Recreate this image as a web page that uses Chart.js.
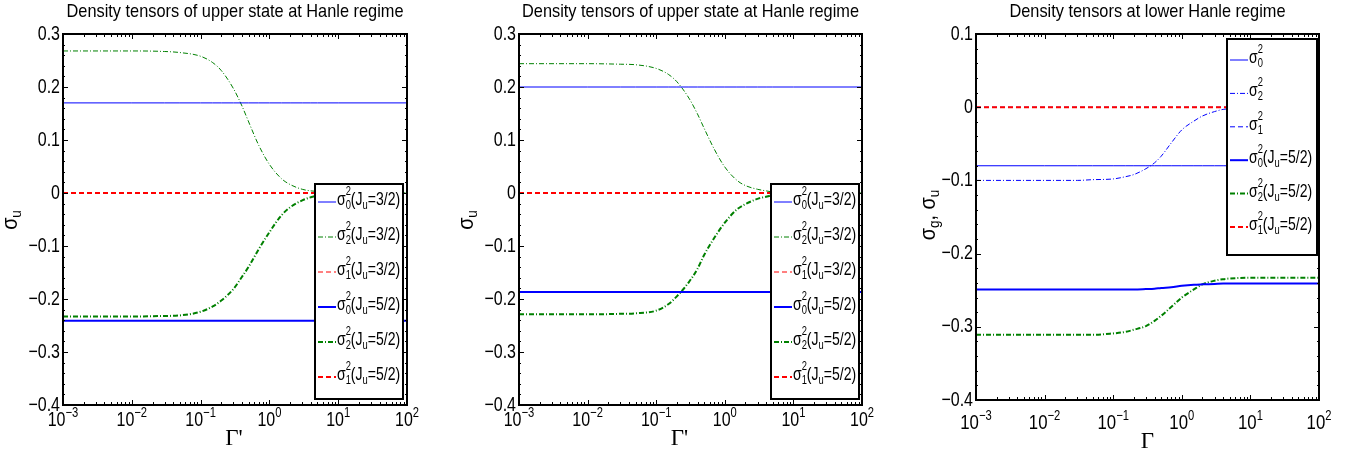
<!DOCTYPE html>
<html>
<head>
<meta charset="utf-8">
<script src="https://cdn.jsdelivr.net/npm/chart.js@4.4.0/dist/chart.umd.min.js"></script>
<style>
  body { margin: 0; background: #fff; width: 1353px; height: 453px; overflow: hidden; position: relative; }
  .panel { position: absolute; top: 0; width: 451px; height: 453px; }
</style>
</head>
<body>
<div class="panel" style="left:0"><canvas id="c1"></canvas></div>
<div class="panel" style="left:451px"><canvas id="c2"></canvas></div>
<div class="panel" style="left:902px"><canvas id="c3"></canvas></div>
<script>
// Gamma values (x axis, log scale) at which the curves were read
const gamma = [0.001, 0.01, 0.03, 0.05, 0.1, 0.15, 0.2, 0.3, 0.4, 0.5, 0.7, 1, 1.5, 2, 3, 4, 5, 10, 100];
const xTickExp = ['-3', '-2', '-1', '0', '1', '2'];

// panel 1 - upper state
const p1Labels = ['σ_0^2(J_u=3/2)', 'σ_2^2(J_u=3/2)', 'σ_1^2(J_u=3/2)', 'σ_0^2(J_u=5/2)', 'σ_2^2(J_u=5/2)', 'σ_1^2(J_u=5/2)'];
const p1s0a = [0.17, 0.17, 0.17, 0.17, 0.17, 0.17, 0.17, 0.17, 0.17, 0.17, 0.17, 0.17, 0.17, 0.17, 0.17, 0.17, 0.17, 0.17, 0.17];
const p1s2a = [0.268, 0.268, 0.267, 0.265, 0.258, 0.246, 0.231, 0.197, 0.164, 0.134, 0.090, 0.054, 0.027, 0.016, 0.007, 0.004, 0.003, 0.001, 0];
const p1s1a = [0, 0, 0, 0, 0, 0, 0, 0, 0, 0, 0, 0, 0, 0, 0, 0, 0, 0, 0];
const p1s0b = [-0.241, -0.241, -0.241, -0.241, -0.241, -0.241, -0.241, -0.241, -0.241, -0.241, -0.241, -0.241, -0.241, -0.241, -0.241, -0.241, -0.241, -0.241, -0.241];
const p1s2b = [-0.233, -0.233, -0.232, -0.231, -0.224, -0.214, -0.203, -0.181, -0.158, -0.139, -0.106, -0.074, -0.042, -0.027, -0.014, -0.008, -0.005, -0.001, 0];
const p1s1b = [0, 0, 0, 0, 0, 0, 0, 0, 0, 0, 0, 0, 0, 0, 0, 0, 0, 0, 0];

// panel 2 - upper state
const p2Labels = p1Labels;
const p2s0a = [0.2, 0.2, 0.2, 0.2, 0.2, 0.2, 0.2, 0.2, 0.2, 0.2, 0.2, 0.2, 0.2, 0.2, 0.2, 0.2, 0.2, 0.2, 0.2];
const p2s2a = [0.244, 0.244, 0.243, 0.242, 0.235, 0.224, 0.210, 0.179, 0.149, 0.122, 0.083, 0.049, 0.024, 0.014, 0.007, 0.004, 0.002, 0.001, 0];
const p2s1a = [0, 0, 0, 0, 0, 0, 0, 0, 0, 0, 0, 0, 0, 0, 0, 0, 0, 0, 0];
const p2s0b = [-0.187, -0.187, -0.187, -0.187, -0.187, -0.187, -0.187, -0.187, -0.187, -0.187, -0.187, -0.187, -0.187, -0.187, -0.187, -0.187, -0.187, -0.187, -0.187];
const p2s2b = [-0.229, -0.229, -0.228, -0.227, -0.222, -0.210, -0.195, -0.168, -0.143, -0.117, -0.085, -0.056, -0.031, -0.021, -0.011, -0.007, -0.004, -0.001, 0];
const p2s1b = [0, 0, 0, 0, 0, 0, 0, 0, 0, 0, 0, 0, 0, 0, 0, 0, 0, 0, 0];

// panel 3 - lower level
const p3Labels = ['σ_0^2', 'σ_2^2', 'σ_1^2', 'σ_0^2(J_u=5/2)', 'σ_2^2(J_u=5/2)', 'σ_1^2(J_u=5/2)'];
const p3s0a = [-0.08, -0.08, -0.08, -0.08, -0.08, -0.08, -0.08, -0.08, -0.08, -0.08, -0.08, -0.08, -0.08, -0.08, -0.08, -0.08, -0.08, -0.08, -0.08];
const p3s2a = [-0.1, -0.1, -0.1, -0.099, -0.098, -0.095, -0.092, -0.084, -0.076, -0.067, -0.049, -0.031, -0.019, -0.012, -0.006, -0.003, -0.002, -0.001, 0];
const p3s1a = [0, 0, 0, 0, 0, 0, 0, 0, 0, 0, 0, 0, 0, 0, 0, 0, 0, 0, 0];
const p3s0b = [-0.249, -0.249, -0.249, -0.249, -0.249, -0.249, -0.249, -0.2485, -0.248, -0.247, -0.246, -0.244, -0.2425, -0.242, -0.2415, -0.241, -0.241, -0.241, -0.241];
const p3s2b = [-0.311, -0.311, -0.311, -0.311, -0.309, -0.307, -0.304, -0.299, -0.292, -0.285, -0.273, -0.260, -0.249, -0.242, -0.237, -0.235, -0.234, -0.233, -0.233];
const p3s1b = [0, 0, 0, 0, 0, 0, 0, 0, 0, 0, 0, 0, 0, 0, 0, 0, 0, 0, 0];

const SANS = '"Liberation Sans", Arial, sans-serif';
const SERIF = '"Liberation Serif", "Times New Roman", serif';
const NX = 0.8; // horizontal squeeze, the original uses a narrow Helvetica

// text squeezed horizontally
function narrow(ctx, text, x, y, nx) {
  ctx.save();
  ctx.translate(x, y);
  ctx.scale(nx, 1);
  ctx.fillText(text, 0, 0);
  ctx.restore();
}

// split a TeX-like string into normal / sub / sup tokens
function parseTex(s) {
  const out = [];
  let i = 0, buf = '';
  while (i < s.length) {
    const c = s[i];
    if (c === '_' || c === '^') {
      if (buf) { out.push({ t: buf, k: 'n' }); buf = ''; }
      let t;
      if (s[i + 1] === '{') {
        const end = s.indexOf('}', i);
        t = s.slice(i + 2, end);
        i = end + 1;
      } else {
        t = s[i + 1];
        i += 2;
      }
      out.push({ t: t, k: c === '_' ? 'sub' : 'sup' });
    } else {
      buf += c;
      i++;
    }
  }
  if (buf) out.push({ t: buf, k: 'n' });
  return out;
}

function drawTex(ctx, s, x, y, size, draw, sub, sup, nx) {
  const toks = parseTex(s);
  const small = Math.round(size * 0.68);
  let cx = x, i = 0;
  while (i < toks.length) {
    const tk = toks[i];
    if (tk.k === 'n') {
      ctx.font = size + 'px ' + SANS;
      if (draw) narrow(ctx, tk.t, cx, y, nx);
      cx += ctx.measureText(tk.t).width * nx;
      i++;
    } else {
      let adv = 0;
      while (i < toks.length && toks[i].k !== 'n') {
        const t = toks[i];
        ctx.font = small + 'px ' + SANS;
        if (draw) narrow(ctx, t.t, cx, y + (t.k === 'sub' ? sub : -sup), nx);
        adv = Math.max(adv, ctx.measureText(t.t).width * nx);
        i++;
      }
      cx += adv;
    }
  }
  return cx - x;
}

const framePlugin = {
  id: 'frame',
  afterDatasetsDraw(chart) {
    const o = chart.options.plugins.frame;
    const ctx = chart.ctx;
    const a = chart.chartArea;
    const x = chart.scales.x, y = chart.scales.y;
    ctx.save();
    ctx.strokeStyle = '#000';
    ctx.fillStyle = '#000';

    // inward ticks on all four sides
    ctx.lineWidth = 1;
    ctx.beginPath();
    for (let d = -3; d <= 2; d++) {
      for (let k = 1; k <= 9; k++) {
        const v = k * Math.pow(10, d);
        if (v > 100) break;
        const px = Math.round(x.getPixelForValue(v)) + 0.5;
        const len = k === 1 ? 5 : 3;
        ctx.moveTo(px, a.bottom); ctx.lineTo(px, a.bottom - len);
        ctx.moveTo(px, a.top); ctx.lineTo(px, a.top + len);
      }
    }
    for (let v = y.min; v <= y.max + 1e-9; v += 0.02) {
      const py = Math.round(y.getPixelForValue(v)) + 0.5;
      const major = Math.abs(v * 10 - Math.round(v * 10)) < 1e-6;
      const len = major ? 5 : 2;
      ctx.moveTo(a.left, py); ctx.lineTo(a.left + len, py);
      ctx.moveTo(a.right, py); ctx.lineTo(a.right - len, py);
    }
    ctx.stroke();

    // box
    ctx.lineWidth = 2;
    ctx.strokeRect(a.left, a.top, a.right - a.left, a.bottom - a.top);

    // legend
    const lg = o.legend;
    const bx = a.right - lg.inset - lg.w;
    const by = lg.fromTop ? a.top + lg.dy : a.bottom - lg.dy - lg.h;
    ctx.fillStyle = '#fff';
    ctx.fillRect(bx, by, lg.w, lg.h);
    ctx.lineWidth = 2;
    ctx.strokeStyle = '#000';
    ctx.strokeRect(bx, by, lg.w, lg.h);
    chart.data.datasets.forEach((ds, i) => {
      const base = by + lg.first + i * lg.row;
      ctx.save();
      ctx.strokeStyle = ds.borderColor;
      ctx.lineWidth = ds.borderWidth;
      ctx.setLineDash(ds.borderDash || []);
      ctx.beginPath();
      ctx.moveTo(bx + 3, base - 3);
      ctx.lineTo(bx + 21, base - 3);
      ctx.stroke();
      ctx.restore();
      ctx.fillStyle = '#000';
      ctx.textBaseline = 'alphabetic';
      ctx.textAlign = 'left';
      drawTex(ctx, ds.label, bx + 22, base, 18, true, 4, 10, 0.78);
    });
    ctx.restore();
  },
  afterDraw(chart) {
    const o = chart.options.plugins.frame;
    const ctx = chart.ctx;
    const a = chart.chartArea;
    const x = chart.scales.x, y = chart.scales.y;
    ctx.save();
    ctx.fillStyle = '#000';

    // title
    ctx.textAlign = 'left';
    ctx.textBaseline = 'middle';
    ctx.font = '19px ' + SANS;
    const tw = ctx.measureText(o.title).width * 0.86;
    narrow(ctx, o.title, (a.left + a.right) / 2 - tw / 2, 12, 0.86);

    // y tick labels
    ctx.font = '20px ' + SANS;
    y.ticks.forEach(t => {
      const r = Math.round(t.value * 10) / 10;
      const s = r === 0 ? '0' : String(r).replace('-', '\u2212');
      const w = ctx.measureText(s).width * NX;
      narrow(ctx, s, a.left - 3 - w, y.getPixelForValue(t.value), NX);
    });

    // x tick labels 10^n
    ctx.textBaseline = 'alphabetic';
    xTickExp.forEach(e => {
      const s = '10^{' + e.replace('-', '\u2212') + '}';
      const px = x.getPixelForValue(Math.pow(10, Number(e)));
      const w = drawTex(ctx, s, 0, 0, o.xTickSize, false, 0, 9, NX);
      drawTex(ctx, s, px - w / 2, a.bottom + o.xTickDy, o.xTickSize, true, 0, 9, NX);
    });

    // x title
    ctx.font = '23px ' + SERIF;
    ctx.textAlign = 'center';
    ctx.fillText(o.xTitle, (a.left + a.right) / 2 + o.xTitleDx, a.bottom + o.xTitleDy);

    // y title (rotated)
    ctx.textAlign = 'left';
    const w = drawTex(ctx, o.yTitle, 0, 0, 22, false, 4, 8, 0.9);
    ctx.translate(a.left - o.yTitleDx, o.yTitleY);
    ctx.rotate(-Math.PI / 2);
    drawTex(ctx, o.yTitle, -w / 2, 0, 22, true, 4, 8, 0.9);
    ctx.restore();
  }
};

const BLUE = '#0000ff', GREEN = '#008000', RED = '#ff0000';
const DASHDOT = [5, 2, 1, 2];
const DASHED = [5, 3];

function series(label, vals, color, width, dash, order) {
  return {
    label: label,
    data: gamma.map((g, i) => ({ x: g, y: vals[i] })),
    borderColor: color,
    backgroundColor: color,
    borderWidth: width,
    borderDash: dash,
    pointRadius: 0,
    fill: false,
    order: order || 0,
    cubicInterpolationMode: 'monotone'
  };
}

function makeChart(id, p) {
  return new Chart(id, {
    type: 'line',
    data: { datasets: p.datasets },
    plugins: [framePlugin],
    options: {
      responsive: true,
      maintainAspectRatio: false,
      animation: false,
      layout: { padding: { left: 0, right: p.padRight, top: 34, bottom: 0 } },
      scales: {
        x: {
          type: 'logarithmic',
          min: 0.001,
          max: 100,
          grid: { display: false },
          border: { display: false },
          ticks: { display: false },
          afterFit: s => { s.height = p.bottom; }
        },
        y: {
          min: p.yMin,
          max: p.yMax,
          grid: { display: false },
          border: { display: false },
          ticks: { display: false, stepSize: 0.1 },
          afterFit: s => { s.width = p.left; }
        }
      },
      plugins: {
        legend: { display: false },
        tooltip: { enabled: false },
        title: { display: false },
        frame: Object.assign({ title: p.title }, p.frame)
      }
    }
  });
}

makeChart('c1', {
  title: 'Density tensors of upper state at Hanle regime',
  yMin: -0.4, yMax: 0.3, left: 63, padRight: 44, bottom: 48,
  datasets: [
    series(p1Labels[0], p1s0a, BLUE, 1, []),
    series(p1Labels[1], p1s2a, GREEN, 1, DASHDOT),
    series(p1Labels[2], p1s1a, RED, 1, DASHED, -1),
    series(p1Labels[3], p1s0b, BLUE, 2, []),
    series(p1Labels[4], p1s2b, GREEN, 2, DASHDOT),
    series(p1Labels[5], p1s1b, RED, 2, DASHED, -2)
  ],
  frame: {
    xTickSize: 20, xTickDy: 21, xTitle: 'Γ\'', xTitleDx: -1, xTitleDy: 40,
    yTitle: 'σ_u', yTitleDx: 46, yTitleY: 220,
    legend: { fromTop: false, inset: 4, dy: 6, w: 88, h: 215, first: 21, row: 35 }
  }
});

makeChart('c2', {
  title: 'Density tensors of upper state at Hanle regime',
  yMin: -0.4, yMax: 0.3, left: 68, padRight: 40, bottom: 48,
  datasets: [
    series(p2Labels[0], p2s0a, BLUE, 1, []),
    series(p2Labels[1], p2s2a, GREEN, 1, DASHDOT),
    series(p2Labels[2], p2s1a, RED, 1, DASHED, -1),
    series(p2Labels[3], p2s0b, BLUE, 2, []),
    series(p2Labels[4], p2s2b, GREEN, 2, DASHDOT),
    series(p2Labels[5], p2s1b, RED, 2, DASHED, -2)
  ],
  frame: {
    xTickSize: 20, xTickDy: 21, xTitle: 'Γ\'', xTitleDx: -11, xTitleDy: 40,
    yTitle: 'σ_u', yTitleDx: 46, yTitleY: 220,
    legend: { fromTop: false, inset: 3, dy: 6, w: 88, h: 215, first: 21, row: 35 }
  }
});

makeChart('c3', {
  title: 'Density tensors at lower Hanle regime',
  yMin: -0.4, yMax: 0.1, left: 74, padRight: 34, bottom: 53,
  datasets: [
    series(p3Labels[0], p3s0a, BLUE, 1, []),
    series(p3Labels[1], p3s2a, BLUE, 1, DASHDOT),
    series(p3Labels[2], p3s1a, BLUE, 1, DASHED),
    series(p3Labels[3], p3s0b, BLUE, 2, []),
    series(p3Labels[4], p3s2b, GREEN, 2, DASHDOT),
    series(p3Labels[5], p3s1b, RED, 2, DASHED, -2)
  ],
  frame: {
    xTickSize: 21, xTickDy: 29, xTitle: 'Γ', xTitleDx: 0, xTitleDy: 48,
    yTitle: 'σ_g, σ_u', yTitleDx: 41, yTitleY: 215,
    legend: { fromTop: true, inset: 2, dy: 5, w: 90, h: 216, first: 24, row: 33.4 }
  }
});
</script>
</body>
</html>
